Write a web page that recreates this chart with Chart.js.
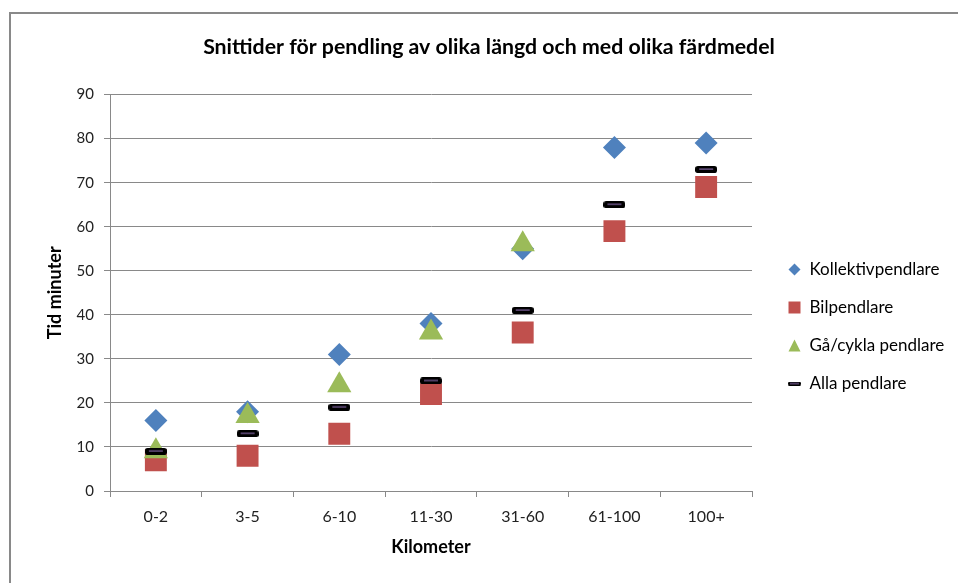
<!DOCTYPE html>
<html>
<head>
<meta charset="utf-8">
<script src="https://cdn.jsdelivr.net/npm/chart.js"></script>
<style>
    body { margin: 0; background: #fff; }
    #frame { position: absolute; left: 9px; top: 12px; width: 1000px; height: 600px;
             border-left: 2px solid #898989; border-top: 2px solid #898989; }
    #wrap { position: absolute; left: 0; top: 0; width: 958px; height: 583px; }
</style>
</head>
<body>
<div id="frame"></div>
<div id="wrap"><canvas id="chart" width="958" height="583"></canvas></div>

<script>
    var labels = ["0-2", "3-5", "6-10", "11-30", "31-60", "61-100", "100+"];
    var kollektiv = [16, 18, 31, 38, 55, 78, 79];
    var bil = [7, 8, 13, 22, 36, 59, 69];
    var gaCykla = [9, 17, 24, 36, 56, null, null];
    var alla = [9, 13, 19, 25, 41, 65, 73];

    var blue = '#4F81BD', red = '#C0504D', green = '#9BBB59', purple = '#8064A2';

    // small canvases used as point styles
    function dash(w, h, inner) {
        var c = document.createElement('canvas');
        c.width = w; c.height = h;
        var g = c.getContext('2d');
        g.fillStyle = '#000';
        g.beginPath();
        g.roundRect(0, 0, w, h, h / 2.5);
        g.fill();
        g.fillStyle = purple;
        g.fillRect(inner, Math.floor(h / 2) - 0.5, w - 2 * inner, 1.2);
        return c;
    }
    function icon(kind, color) {
        var c = document.createElement('canvas');
        c.width = 13; c.height = 13;
        var g = c.getContext('2d');
        g.fillStyle = color;
        g.beginPath();
        if (kind == 'diamond') {
            g.moveTo(6.5, 0.5); g.lineTo(12.5, 6.5); g.lineTo(6.5, 12.5); g.lineTo(0.5, 6.5);
        } else if (kind == 'square') {
            g.rect(0.5, 0.5, 12, 12);
        } else {
            g.moveTo(6.5, 0.5); g.lineTo(12.5, 12.5); g.lineTo(0.5, 12.5);
        }
        g.fill();
        return c;
    }

    var allaPoint = dash(22, 7, 4);
    // legend icons, indexed like the datasets below
    var legendIcons = [dash(13, 4, 2), icon('triangle', green), icon('square', red), icon('diamond', blue)];

    Chart.defaults.font.family = 'Lato';
    Chart.defaults.color = '#000';

    var legendPlacer = {
        id: 'legendPlacer',
        beforeLayout: function (chart) {
            var lg = chart.legend;
            if (lg && !lg.patched) {
                var fit = lg.fit;
                lg.fit = function () { fit.call(this); this.width = 182; };
                lg.patched = true;
            }
        },
        afterLayout: function (chart) {
            var lg = chart.legend;
            var w = lg.right - lg.left, h = lg.bottom - lg.top;
            lg.left = 767; lg.right = 767 + w;
            lg.top = 240; lg.bottom = 240 + h;
        }
    };

    // datasets listed in reverse so "Alla pendlare" is drawn on top
    var datasets = [
        { label: 'Alla pendlare', data: alla, pointStyle: allaPoint, pointRadius: 11,
          backgroundColor: '#000', borderColor: '#000' },
        { label: 'Gå/cykla pendlare', data: gaCykla, pointStyle: 'triangle', pointRadius: 14,
          backgroundColor: green, borderColor: green },
        { label: 'Bilpendlare', data: bil, pointStyle: 'rect', pointRadius: 15.5,
          backgroundColor: red, borderColor: red },
        { label: 'Kollektivpendlare', data: kollektiv, pointStyle: 'rectRot', pointRadius: 11.5,
          backgroundColor: blue, borderColor: blue }
    ];
    datasets.forEach(function (d) {
        d.showLine = false;
        d.pointBorderWidth = 0;
        d.pointHoverRadius = d.pointRadius;
    });

    var chart = new Chart(document.getElementById('chart'), {
        type: 'line',
        data: { labels: labels, datasets: datasets },
        plugins: [legendPlacer],
        options: {
            responsive: false,
            animation: false,
            layout: { padding: { left: 44, right: 24, top: 0, bottom: 22 } },
            plugins: {
                title: {
                    display: true,
                    text: 'Snittider för pendling av olika längd och med olika färdmedel',
                    font: { size: 21.3, weight: 'bold' },
                    color: '#000',
                    padding: { top: 34, bottom: 35 }
                },
                legend: {
                    position: 'right',
                    align: 'start',
                    reverse: true,
                    labels: {
                        usePointStyle: true,
                        boxWidth: 13,
                        boxHeight: 13,
                        padding: 21,
                        font: { size: 17 },
                        color: '#000',
                        generateLabels: function (chart) {
                            var items = Chart.defaults.plugins.legend.labels.generateLabels(chart);
                            items.forEach(function (it) { it.pointStyle = legendIcons[it.datasetIndex]; });
                            return items;
                        }
                    }
                },
                tooltip: { enabled: false }
            },
            scales: {
                x: {
                    offset: true,
                    afterFit: function (s) { s.height = 70; },
                    grid: { offset: true, drawOnChartArea: false, tickLength: 6, color: '#898989' },
                    border: { color: '#898989' },
                    ticks: { padding: 10, font: { size: 16 }, color: '#222' },
                    title: { display: true, text: 'Kilometer', font: { size: 18, weight: 'bold' },
                             color: '#000', padding: { top: 14, bottom: 3 } }
                },
                y: {
                    min: 0,
                    max: 90,
                    afterFit: function (s) { s.width = 66; },
                    ticks: { stepSize: 10, padding: 10, font: { size: 15 }, color: '#222' },
                    grid: { tickLength: 6, color: '#898989' },
                    border: { color: '#898989' },
                    title: { display: true, text: 'Tid minuter', font: { size: 18, weight: 'bold' },
                             color: '#000', padding: { top: 0, bottom: 0 } }
                }
            }
        }
    });
</script>
</body>
</html>
